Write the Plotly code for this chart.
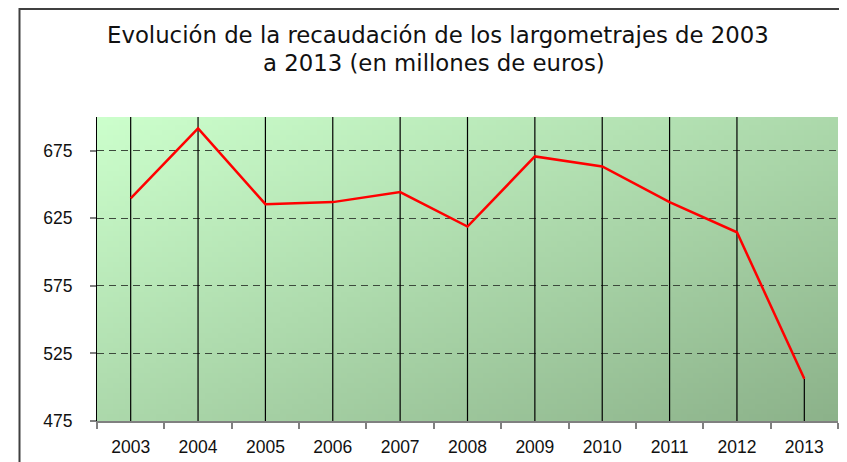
import base64, struct, zlib
import plotly.graph_objects as go

years = ["2003", "2004", "2005", "2006", "2007", "2008", "2009", "2010", "2011", "2012", "2013"]
recaudacion = [639.7, 691.6, 635.5, 637.0, 644.4, 618.9, 670.8, 663.4, 637.0, 614.7, 506.2]
y_ticks = [475, 525, 575, 625, 675]
y_min, y_max = 475, 700
title_line1 = "Evolución de la recaudación de los largometrajes de 2003"
title_line2 = "a 2013 (en millones de euros)"

OFF = 8  # page body margin
W, H = 847 - OFF, 462 - OFF
L, R, T, B = 97 - OFF, 838 - OFF, 117 - OFF, 421 - OFF


def gradient_png(w, h, c0, c1):
    rows = b""
    for j in range(h):
        row = b"\x00"
        for i in range(w):
            t = (i / (w - 1) + j / (h - 1)) / 2
            row += bytes(int(round(c0[k] + (c1[k] - c0[k]) * t)) for k in range(3))
        rows += row
    def chunk(tag, data):
        c = struct.pack(">I", len(data)) + tag + data
        return c + struct.pack(">I", zlib.crc32(tag + data) & 0xffffffff)
    png = b"\x89PNG\r\n\x1a\n"
    png += chunk(b"IHDR", struct.pack(">IIBBBBB", w, h, 8, 2, 0, 0, 0))
    png += chunk(b"IDAT", zlib.compress(rows, 9))
    png += chunk(b"IEND", b"")
    return "data:image/png;base64," + base64.b64encode(png).decode()


bg = gradient_png(120, 60, (204, 255, 204), (140, 178, 138))

fig = go.Figure()

vx, vy = [], []
for yr in years[:-1]:
    vx += [yr, yr, None]
    vy += [y_min, y_max, None]
vx += [years[-1], years[-1]]
vy += [y_min, recaudacion[-1]]
fig.add_trace(go.Scatter(x=vx, y=vy, mode="lines", line=dict(color="black", width=1.2),
                         hoverinfo="skip", showlegend=False, cliponaxis=False))

fig.add_trace(go.Scatter(x=years, y=recaudacion, mode="lines",
                         line=dict(color="#FF0000", width=2.5), showlegend=False))


def px_x(X):
    return (X - OFF - L) / (R - L)


def px_y(Y):
    return (B - (Y - OFF)) / (B - T)


fig.add_layout_image(dict(source=bg, xref="paper", yref="paper", x=0, y=1, sizex=1, sizey=1,
                          sizing="stretch", layer="below", xanchor="left", yanchor="top"))

fig.add_shape(type="rect", xref="paper", yref="paper",
              x0=px_x(19.5), x1=px_x(860), y0=px_y(9), y1=px_y(480),
              line=dict(color="#404040", width=2), layer="above")

fig.add_annotation(text=title_line1, xref="paper", yref="paper", x=px_x(438), y=px_y(35),
                   showarrow=False, xanchor="center", yanchor="middle",
                   font=dict(family="DejaVu Sans", size=22.8, color="#111111"))
fig.add_annotation(text=title_line2, xref="paper", yref="paper", x=px_x(434), y=px_y(63),
                   showarrow=False, xanchor="center", yanchor="middle",
                   font=dict(family="DejaVu Sans", size=22.8, color="#111111"))

fig.update_layout(
    width=W, height=H,
    margin=dict(l=L, r=W - R, t=T, b=H - B, autoexpand=False),
    paper_bgcolor="white", plot_bgcolor="rgba(0,0,0,0)",
    font=dict(family="Liberation Sans", size=17.5, color="#111111"),
    xaxis=dict(type="category", tickson="boundaries", ticks="outside", ticklen=6,
               tickcolor="#808080", tickwidth=1.5, showgrid=False, showline=True,
               linecolor="#808080", linewidth=2, range=[-0.5, 10.5], fixedrange=True,
               automargin=False, ticklabelstandoff=9),
    yaxis=dict(range=[y_min, y_max], tickvals=y_ticks, ticks="outside", ticklen=6,
               tickcolor="#808080", tickwidth=1.5, showgrid=True, gridcolor="#3c4a3c",
               gridwidth=1.2, griddash="7px,5px", showline=True, linecolor="black",
               linewidth=1.2, zeroline=False, fixedrange=True, automargin=False,
               ticklabelstandoff=14),
)

fig.write_html("out.html")
